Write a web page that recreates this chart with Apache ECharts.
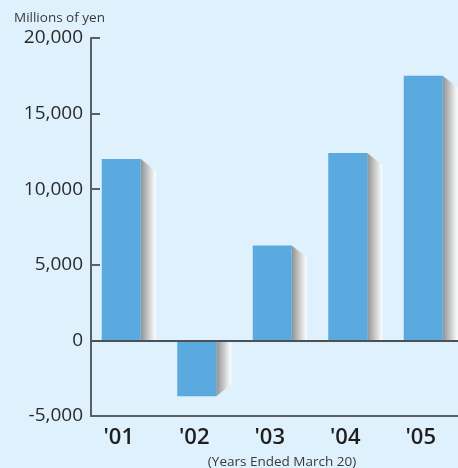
<!DOCTYPE html>
<html>
<head>
<meta charset="utf-8">
<script src="https://cdn.jsdelivr.net/npm/echarts@6/dist/echarts.min.js"></script>
<style>
html,body{margin:0;padding:0;background:#dff1fc;}
#c{width:458px;height:468px;}
</style>
</head>
<body>
<div id="c"></div>
<script>
const categories = ["'01", "'02", "'03", "'04", "'05"];
const values = [12000, -3700, 6270, 12400, 17500];
const yTicks = [-5000, 0, 5000, 10000, 15000, 20000];

const chart = echarts.init(document.getElementById('c'), null, {renderer: 'canvas'});
const FONT = '"Open Sans", "Noto Sans", sans-serif';

function renderItem(params, api) {
  const idx = api.value(0), v = api.value(1);
  const c = api.coord([idx, v]);
  const z = api.coord([idx, 0]);
  const barW = 39, sh = 15, dy = 12;
  const left = c[0] - (barW + sh) / 2;
  const right = left + barW;
  const top = Math.min(c[1], z[1]), bottom = Math.max(c[1], z[1]);
  let pts;
  if (v >= 0) {
    pts = [[right, c[1]], [right + sh, c[1] + dy], [right + sh, z[1]], [right, z[1]]];
  } else {
    pts = [[right, z[1]], [right + sh, z[1]], [right + sh, c[1] - dy], [right, c[1]]];
  }
  return {
    type: 'group',
    children: [
      {
        type: 'polygon',
        shape: {points: pts},
        style: {
          fill: new echarts.graphic.LinearGradient(0, 0, 1, 0, [
            {offset: 0, color: '#8f9293'},
            {offset: 1, color: '#ffffff'}
          ])
        }
      },
      {
        type: 'rect',
        shape: {x: left, y: top, width: barW, height: bottom - top},
        style: {fill: '#5aa9df'}
      }
    ]
  };
}

chart.setOption({
  backgroundColor: '#dff1fc',
  animation: false,
  textStyle: {fontFamily: FONT},
  title: [
    {text: 'Millions of yen', left: 9, top: 6,
     textStyle: {fontSize: 13.5, fontWeight: 'normal', color: '#3a3a3a', fontFamily: FONT}},
    {text: '(Years Ended March 20)', left: 277, top: 450, textAlign: 'center',
     textStyle: {fontSize: 13.5, fontWeight: 'normal', color: '#3a3a3a', fontFamily: FONT}}
  ],
  grid: {left: 91, width: 377.5, top: 38, bottom: 52, outerBoundsMode: 'none', containLabel: false},
  xAxis: {
    type: 'category',
    data: categories,
    position: 'bottom',
    axisLine: {onZero: false, lineStyle: {color: '#586066', width: 2}},
    axisTick: {show: false},
    axisLabel: {fontSize: 22, fontWeight: 600, color: '#1e1e1e', margin: 11, padding: [0, 20, 0, 0], fontFamily: FONT}
  },
  yAxis: {
    type: 'value',
    min: yTicks[0],
    max: yTicks[yTicks.length - 1],
    interval: 5000,
    axisLine: {show: true, lineStyle: {color: '#586066', width: 2}},
    axisTick: {show: true, inside: true, length: 9, lineStyle: {color: '#586066', width: 2}},
    splitLine: {show: false},
    axisLabel: {fontSize: 19, color: '#2a2a2a', margin: 8, fontFamily: FONT,
      formatter: v => v.toLocaleString('en-US')}
  },
  series: [{
    type: 'custom',
    renderItem: renderItem,
    data: values.map((v, i) => [i, v]),
    markLine: {
      silent: true,
      symbol: 'none',
      label: {show: false},
      lineStyle: {color: '#4a5257', width: 2, type: 'solid'},
      data: [{yAxis: 0}]
    }
  }]
});
</script>
</body>
</html>
